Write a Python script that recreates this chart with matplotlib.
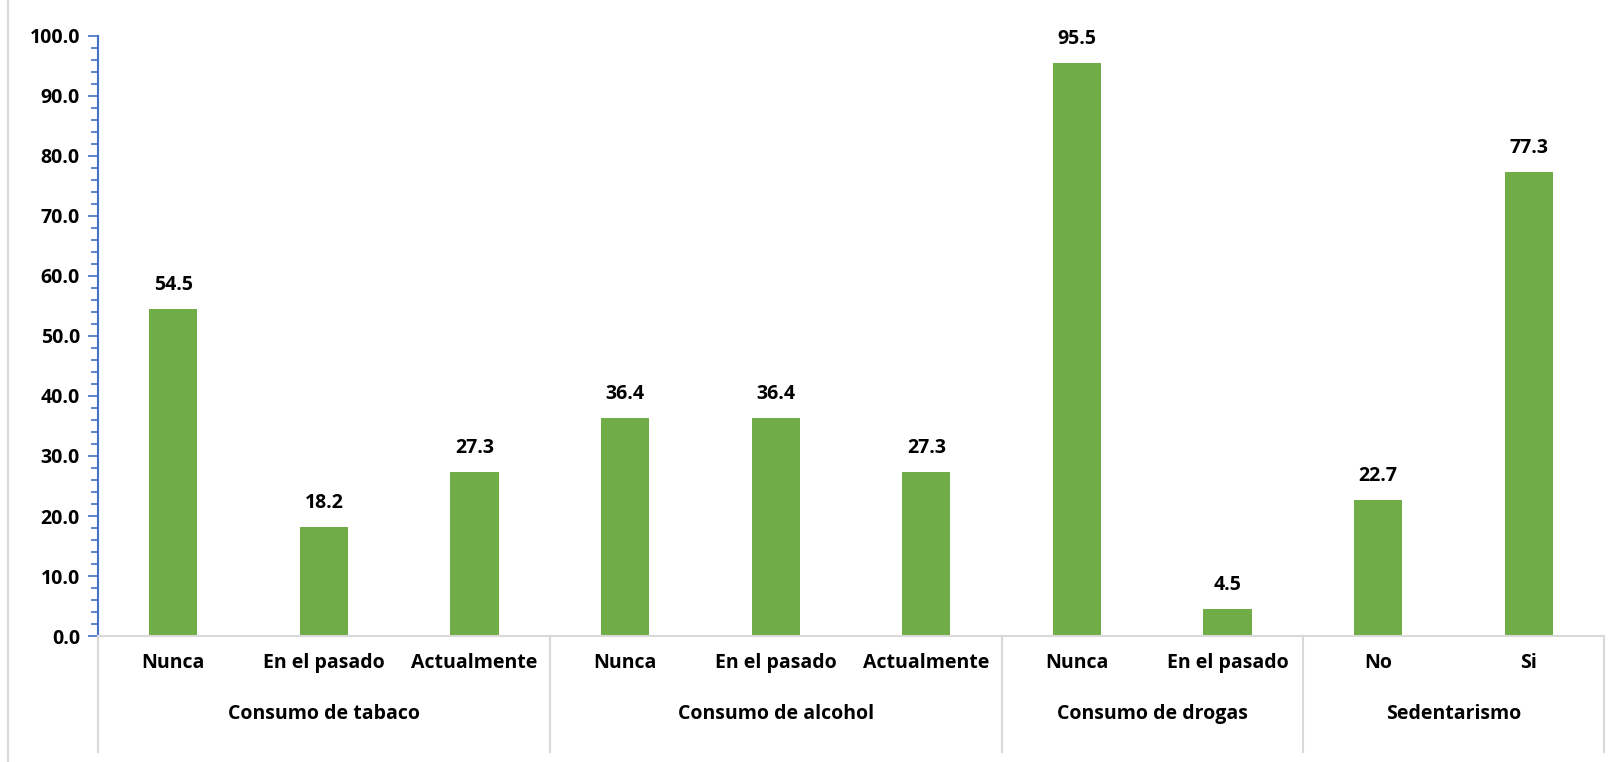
import numpy as np
import matplotlib.pyplot as plt
from matplotlib.lines import Line2D
from matplotlib.ticker import MultipleLocator

# Datos
categorias = ["Nunca", "En el pasado", "Actualmente",
              "Nunca", "En el pasado", "Actualmente",
              "Nunca", "En el pasado",
              "No", "Si"]
valores = [54.5, 18.2, 27.3, 36.4, 36.4, 27.3, 95.5, 4.5, 22.7, 77.3]
grupos = ["Consumo de tabaco", "Consumo de alcohol", "Consumo de drogas", "Sedentarismo"]
tam_grupos = [3, 3, 2, 2]

plt.rcParams['font.family'] = ['Open Sans', 'DejaVu Sans']
plt.rcParams['font.weight'] = 'bold'
FS = 14

W, H = 1621, 762
fig = plt.figure(figsize=(W / 100, H / 100), dpi=100)
ax = fig.add_axes([98 / W, (H - 636) / H, (1604 - 98) / W, 600 / H])

x = np.arange(len(valores))
ax.bar(x, valores, width=0.32, color='#70AD47')
for xi, v in zip(x, valores):
    ax.text(xi, v + 2.3, f"{v:.1f}", ha='center', va='bottom',
            fontsize=FS, fontweight='bold')

ax.set_xlim(-0.5, len(valores) - 0.5)
ax.set_ylim(0, 100)
ax.yaxis.set_major_locator(MultipleLocator(10))
ax.yaxis.set_minor_locator(MultipleLocator(2))
ax.yaxis.set_major_formatter(plt.FuncFormatter(lambda v, p: f"{v:.1f}"))
ax.tick_params(axis='y', which='major', length=7, width=1.2, color='#4472C4',
               labelsize=FS, pad=6)
ax.tick_params(axis='y', which='minor', length=5, width=1.2, color='#4472C4')
for lab in ax.get_yticklabels():
    lab.set_fontweight('bold')

ax.set_xticks(x)
ax.set_xticklabels(categorias, fontsize=FS, fontweight='bold')
ax.tick_params(axis='x', length=0, pad=12)

for s in ['top', 'right']:
    ax.spines[s].set_visible(False)
ax.spines['left'].set_color('#4472C4')
ax.spines['left'].set_linewidth(1.5)
ax.spines['bottom'].set_color('#D9D9D9')
ax.spines['bottom'].set_linewidth(1.5)

# Separadores y etiquetas de grupo
trans = ax.get_xaxis_transform()
bordes = np.concatenate([[0], np.cumsum(tam_grupos)]) - 0.5
for b in bordes:
    ax.add_line(Line2D([b, b], [0, -116 / 600], transform=trans,
                       color='#D9D9D9', lw=1.5, clip_on=False))
for i, g in enumerate(grupos):
    centro = (bordes[i] + bordes[i + 1]) / 2
    ax.text(centro, -78 / 600, g, transform=trans, ha='center', va='center',
            fontsize=FS, fontweight='bold')

# Borde del grafico
fig.add_artist(Line2D([8 / W, 8 / W], [0, 1], transform=fig.transFigure,
                      color='#D9D9D9', lw=1.5))

fig.savefig('out.png', dpi=100)
